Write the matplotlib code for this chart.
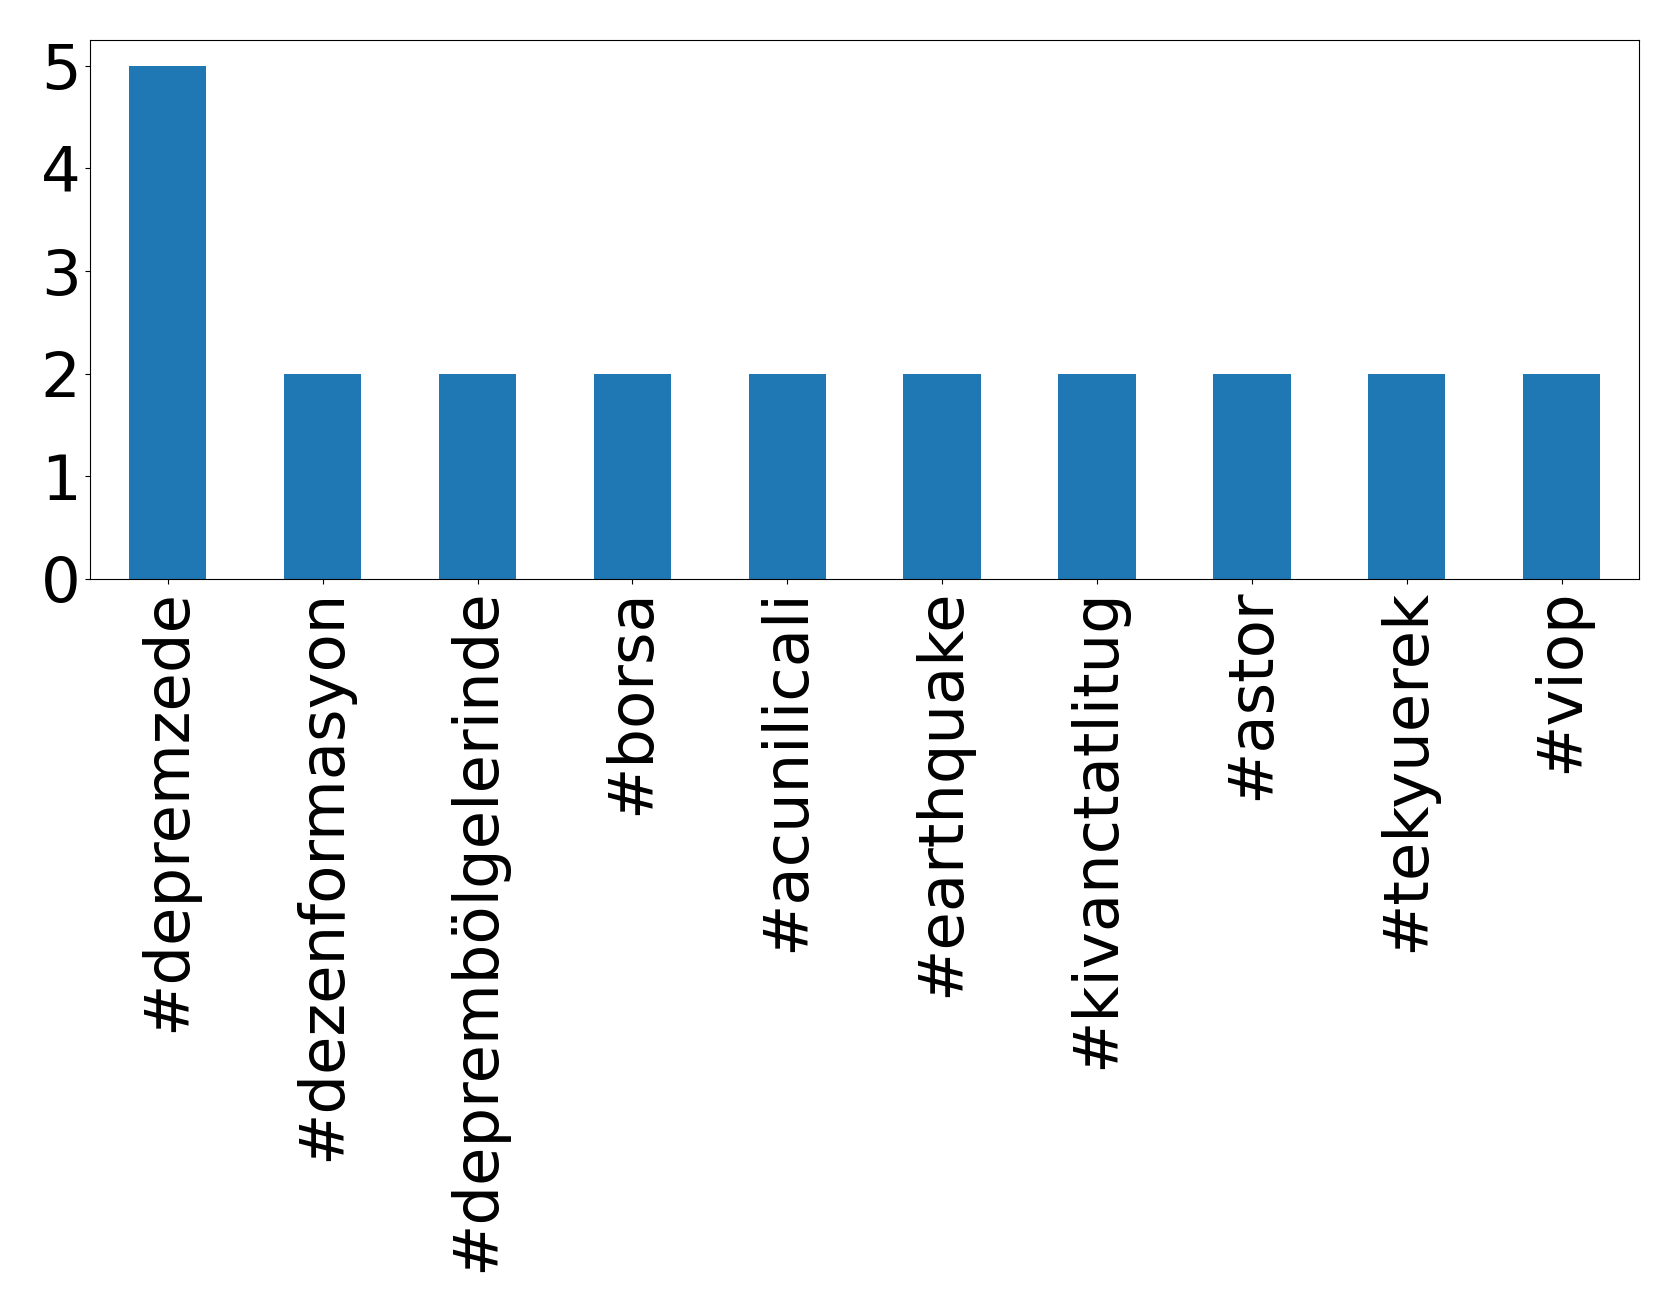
import matplotlib
matplotlib.use("Agg")
import matplotlib.pyplot as plt
import numpy as np

hashtags = ['#depremzede', '#dezenformasyon', '#deprembölgelerinde', '#borsa',
            '#acunilicali', '#earthquake', '#kivanctatlitug', '#astor',
            '#tekyuerek', '#viop']
counts = [5, 2, 2, 2, 2, 2, 2, 2, 2, 2]

fig = plt.figure(figsize=(16.79, 13.12), dpi=100)
ax = fig.add_axes([0.0538, 0.5587, 0.9762 - 0.0538, 0.9695 - 0.5587])

x = np.arange(len(hashtags))
ax.bar(x, counts, width=0.5, color='#1f77b4')
ax.set_xlim(-0.5, len(hashtags) - 0.5)
ax.set_ylim(0, 5.25)
ax.set_xticks(x)
ax.set_xticklabels(hashtags, rotation=90)
ax.set_yticks(range(0, 6))
ax.tick_params(labelsize=45)

fig.savefig('out.png', dpi=100)
